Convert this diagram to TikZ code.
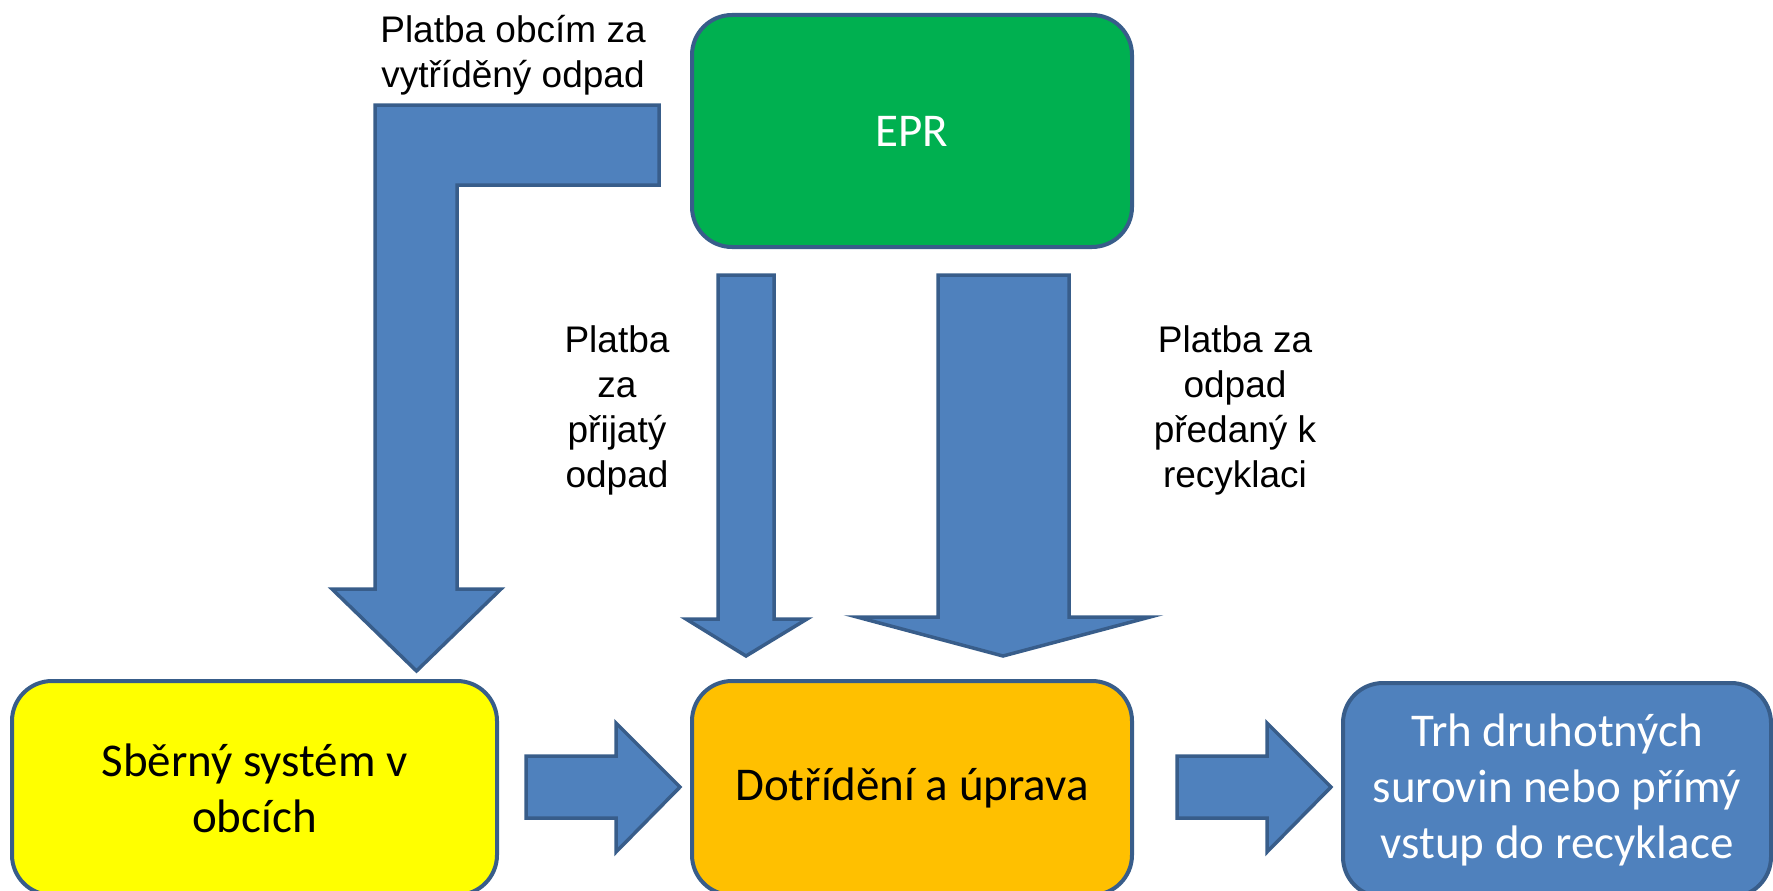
\documentclass[tikz,border=0pt]{standalone}
\usepackage{fontspec}
\setmainfont{Liberation Sans}
\newfontfamily\calfont{Carlito}
\definecolor{arrowblue}{HTML}{4F81BD}
\definecolor{edgeblue}{HTML}{385D8A}
\definecolor{eprgreen}{HTML}{00B050}
\definecolor{boxyellow}{HTML}{FFFF00}
\definecolor{boxorange}{HTML}{FFC000}
\tikzset{
  box/.style={draw=edgeblue, line width=4pt, rounded corners=40pt, align=center,
    font=\calfont\fontsize{47}{56}\selectfont, inner sep=0pt},
  blockarrow/.style={draw=edgeblue, fill=arrowblue, line width=3.5pt, line join=miter},
  lbl/.style={align=center, font=\fontsize{37}{45}\selectfont, inner sep=0pt}
}
\begin{document}
\begin{tikzpicture}[x=1pt,y=-1pt]
\useasboundingbox (0,0) rectangle (1773,891);
\clip (0,0) rectangle (1773,891);
% boxes
\node[box, fill=eprgreen, text=white, minimum width=440pt, minimum height=232pt] (epr) at (912,131) {EPR};
\node[box, fill=boxyellow, minimum width=485pt, minimum height=214pt] (sber) at (254.5,788) {Sběrný systém v\\obcích};
\node[box, fill=boxorange, minimum width=440pt, minimum height=214pt] (dotr) at (912,788) {Dotřídění a úprava};
\node[box, fill=arrowblue, text=white, minimum width=428pt, minimum height=214pt] (trh) at (1557,790) {Trh druhotných\\surovin nebo přímý\\vstup do recyklace};
% block arrows
\draw[blockarrow] (375,105) -- (659,105) -- (659,185) -- (457,185) -- (457,589) -- (501,589) -- (416.5,671) -- (332,589) -- (375,589) -- cycle;
\draw[blockarrow] (718,275) -- (774,275) -- (774,619) -- (807,619) -- (746,656) -- (686,619) -- (718,619) -- cycle;
\draw[blockarrow] (938,275) -- (1069,275) -- (1069,617) -- (1150,617) -- (1003,656) -- (857,617) -- (938,617) -- cycle;
\draw[blockarrow] (526,756) -- (616,756) -- (616,723) -- (680,787) -- (616,852) -- (616,818) -- (526,818) -- cycle;
\draw[blockarrow] (1177,756) -- (1267,756) -- (1267,723) -- (1331,787) -- (1267,852) -- (1267,818) -- (1177,818) -- cycle;
% labels
\node[lbl] (l1) at (513,55) {Platba obcím za\\vytříděný odpad};
\node[lbl] (l2) at (617,410.5) {Platba\\za\\přijatý\\odpad};
\node[lbl] (l3) at (1235,410.5) {Platba za\\odpad\\předaný k\\recyklaci};
\end{tikzpicture}
\end{document}
